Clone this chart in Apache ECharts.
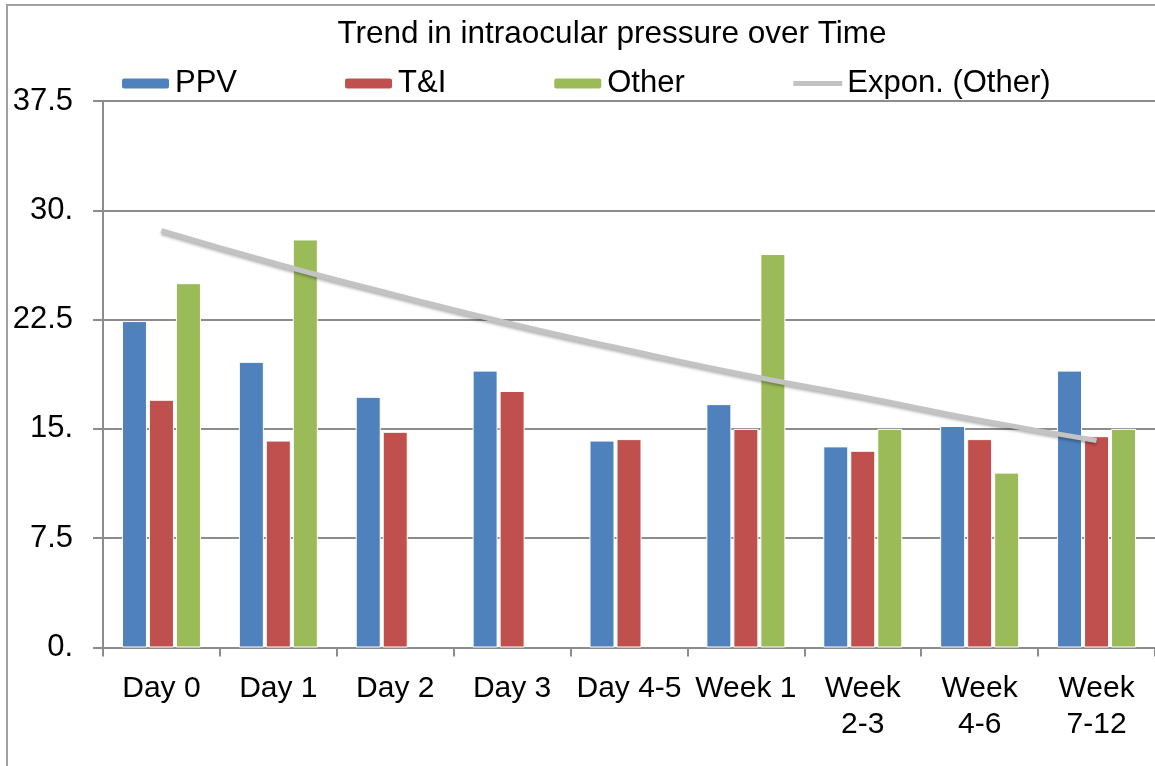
<!DOCTYPE html>
<html>
<head>
<meta charset="utf-8">
<script src="https://cdn.jsdelivr.net/npm/echarts@6/dist/echarts.min.js"></script>
<style>
html,body{margin:0;padding:0;background:#fff;}
#chart{width:1155px;height:766px;}
</style>
</head>
<body>
<div id="chart"></div>
<script>
const categories = ['Day 0', 'Day 1', 'Day 2', 'Day 3', 'Day 4-5', 'Week 1', 'Week\n2-3', 'Week\n4-6', 'Week\n7-12'];
const ppv   = [22.4, 19.6, 17.2, 19.0, 14.2, 16.7, 13.8, 15.2, 19.0];
const ti    = [17.0, 14.2, 14.8, 17.6, 14.3, 15.0, 13.5, 14.3, 14.5];
const other = [25.0, 28.0, null, null, null, 27.0, 15.0, 12.0, 15.0];
const exponOther = [28.6, 26.3, 24.2, 22.2, 20.4, 18.7, 17.2, 15.6, 14.2];
const yTickValues = [0, 7.5, 15, 22.5, 30, 37.5];
const yTickLabels = ['0.', '7.5', '15.', '22.5', '30.', '37.5'];

const FONT = '"Liberation Sans", Arial, sans-serif';
const chart = echarts.init(document.getElementById('chart'));
const barBase = {
  type: 'bar',
  barWidth: 25,
  barGap: '8%'
};
chart.setOption({
  animation: false,
  backgroundColor: '#ffffff',
  graphic: [{
    type: 'rect',
    shape: { x: 7, y: 5, width: 1300, height: 900 },
    style: { fill: 'none', stroke: '#a0a0a0', lineWidth: 2 },
    z: -1
  }],
  title: {
    text: 'Trend in intraocular pressure over Time',
    left: 607, top: 13, textAlign: 'center',
    textStyle: { fontFamily: FONT, fontSize: 31.5, fontWeight: 'normal', color: '#000' }
  },
  legend: {
    left: 120, top: 68, padding: 0,
    itemWidth: 49, itemHeight: 12, itemGap: 106,
    textStyle: { fontFamily: FONT, fontSize: 31, color: '#000' },
    data: ['PPV', 'T&I', 'Other', {
      name: 'Expon. (Other)',
      itemStyle: { opacity: 0 },
      lineStyle: { width: 5, color: '#c3c3c3' }
    }]
  },
  grid: { left: 103, top: 101, width: 1054, height: 546.5, containLabel: false },
  xAxis: {
    type: 'category',
    data: categories,
    axisLine: { lineStyle: { color: '#8c8c8c', width: 2 } },
    axisTick: { show: true, length: 9, alignWithLabel: false, lineStyle: { color: '#8c8c8c', width: 2 } },
    axisLabel: { interval: 0, margin: 23, fontFamily: FONT, fontSize: 30, color: '#000', lineHeight: 36 }
  },
  yAxis: {
    type: 'value',
    min: 0, max: 37.5, interval: 7.5,
    axisLine: { show: true, lineStyle: { color: '#8c8c8c', width: 2 } },
    axisTick: { show: true, length: 10, lineStyle: { color: '#8c8c8c', width: 2 } },
    splitLine: { lineStyle: { color: '#8c8c8c', width: 2 } },
    axisLabel: {
      margin: 30, fontFamily: FONT, fontSize: 31, color: '#000',
      formatter: v => { const i = yTickValues.indexOf(v); return i >= 0 ? yTickLabels[i] : ''; }
    }
  },
  series: [
    Object.assign({}, barBase, { name: 'PPV', data: ppv, itemStyle: { color: '#4f81bd', borderColor: '#fff', borderWidth: 1 } }),
    Object.assign({}, barBase, { name: 'T&I', data: ti, itemStyle: { color: '#c0504d', borderColor: '#fff', borderWidth: 1 } }),
    Object.assign({}, barBase, { name: 'Other', data: other, itemStyle: { color: '#9bbb59', borderColor: '#fff', borderWidth: 1 } }),
    {
      name: 'Expon. (Other)', type: 'line', data: exponOther,
      symbol: 'none', smooth: true, z: 5,
      lineStyle: { color: '#c3c3c3', width: 5, shadowColor: 'rgba(0,0,0,0.3)', shadowBlur: 3, shadowOffsetY: 2 },
      itemStyle: { color: '#c3c3c3' }
    }
  ]
});
</script>
</body>
</html>
